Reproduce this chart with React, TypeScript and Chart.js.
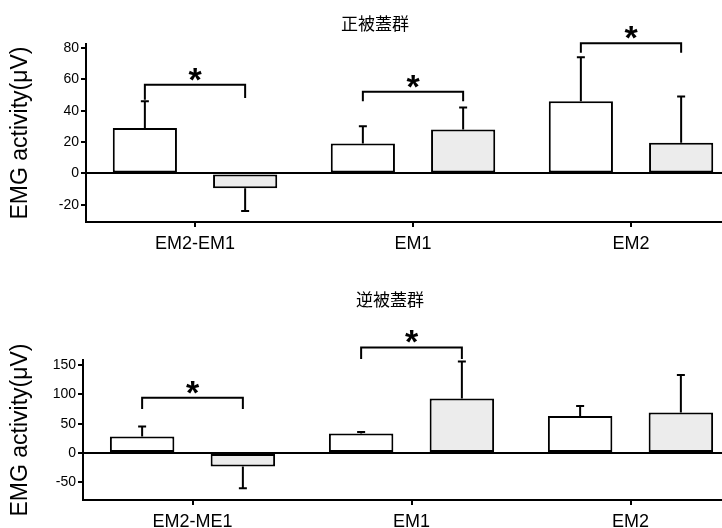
import React, { useEffect, useRef } from "react";
import { Chart, registerables } from "chart.js";

Chart.register(...registerables);

// ---------- DATA ----------
const topTitle = "正被蓋群";
const bottomTitle = "逆被蓋群";
const yAxisTitle = "EMG activity(μV)";

const topCategories = ["EM2-EM1", "EM1", "EM2"];
const topWhite = [29, 19, 46];
const topWhiteErr = [17, 11, 28];
const topGray = [-9.5, 28, 19.5];
const topGrayErr = [14.5, 14, 29.5];
const topBrackets = [
  { group: 0, top: 56.5, legLeft: 47, legRight: 48 },
  { group: 1, top: 52, legLeft: 46, legRight: 46 },
  { group: 2, top: 83, legLeft: 77, legRight: 77 },
];

const bottomCategories = ["EM2-ME1", "EM1", "EM2"];
const bottomWhite = [28, 33.5, 63];
const bottomWhiteErr = [17, 2.5, 17];
const bottomGray = [-23, 93, 69];
const bottomGrayErr = [37, 63, 64];
const bottomBrackets = [
  { group: 0, top: 94, legLeft: 75, legRight: 75 },
  { group: 1, top: 180, legLeft: 160, legRight: 160 },
];

const FONT = "'Liberation Sans', Arial, sans-serif";

const errorBarPlugin = {
  id: "errorBars",
  afterDatasetsDraw(chart: any) {
    const ctx = chart.ctx;
    const y = chart.scales.y;
    ctx.save();
    ctx.strokeStyle = "#000";
    ctx.lineWidth = 2;
    chart.data.datasets.forEach((ds: any, i: number) => {
      const meta = chart.getDatasetMeta(i);
      meta.data.forEach((el: any, j: number) => {
        const v = ds.data[j];
        const e = ds.errors[j];
        const sign = v >= 0 ? 1 : -1;
        const y0 = y.getPixelForValue(v);
        const y1 = y.getPixelForValue(v + sign * e);
        ctx.beginPath();
        ctx.moveTo(el.x, y0);
        ctx.lineTo(el.x, y1);
        ctx.moveTo(el.x - 4, y1);
        ctx.lineTo(el.x + 4, y1);
        ctx.stroke();
      });
    });
    ctx.restore();
  },
};

const bracketPlugin = {
  id: "brackets",
  afterDraw(chart: any) {
    const o = chart.options.plugins.brackets;
    const ctx = chart.ctx;
    const y = chart.scales.y;
    const m0 = chart.getDatasetMeta(0);
    const m1 = chart.getDatasetMeta(1);
    ctx.save();
    ctx.strokeStyle = "#000";
    ctx.fillStyle = "#000";
    ctx.lineWidth = 2;
    o.items.forEach((b: any) => {
      const xl = m0.data[b.group].x;
      const xr = m1.data[b.group].x;
      const yt = y.getPixelForValue(b.top);
      ctx.beginPath();
      ctx.moveTo(xl, y.getPixelForValue(b.legLeft));
      ctx.lineTo(xl, yt);
      ctx.lineTo(xr, yt);
      ctx.lineTo(xr, y.getPixelForValue(b.legRight));
      ctx.stroke();
      ctx.font = `bold 34px ${FONT}`;
      ctx.textAlign = "center";
      ctx.textBaseline = "alphabetic";
      ctx.fillText("*", (xl + xr) / 2, yt - 13 + 19);
    });
    // panel title
    ctx.font = `17px 'Noto Sans CJK JP', sans-serif`;
    ctx.textAlign = "center";
    ctx.textBaseline = "middle";
    ctx.fillText(o.title, o.titleX, o.titleY);
    ctx.restore();
  },
};

function makeConfig(opts: any) {
  return {
    type: "bar",
    data: {
      labels: opts.categories,
      datasets: [
        {
          data: opts.white,
          errors: opts.whiteErr,
          backgroundColor: "#ffffff",
          borderColor: "#000",
          borderWidth: 2,
          borderSkipped: false,
        },
        {
          data: opts.gray,
          errors: opts.grayErr,
          backgroundColor: "#ececec",
          borderColor: "#000",
          borderWidth: 2,
          borderSkipped: false,
        },
      ],
    },
    options: {
      responsive: false,
      animation: false,
      events: [],
      layout: { padding: { top: opts.padTop, left: 0, right: 0, bottom: 0 } },
      datasets: { bar: { categoryPercentage: 0.92, barPercentage: 0.64 } },
      plugins: {
        legend: { display: false },
        tooltip: { enabled: false },
        title: { display: false },
        brackets: {
          items: opts.brackets,
          title: opts.title,
          titleX: opts.titleX,
          titleY: opts.titleY,
        },
      },
      scales: {
        x: {
          offset: true,
          afterFit: (s: any) => {
            s.height = 40;
          },
          grid: {
            display: true,
            drawOnChartArea: false,
            drawTicks: true,
            offset: false,
            tickLength: 5,
            tickColor: "#000",
            lineWidth: 2,
          },
          border: { color: "#000", width: 2 },
          ticks: { color: "#000", font: { family: FONT, size: 18 }, padding: 6 },
        },
        y: {
          min: opts.min,
          max: opts.max,
          afterFit: (s: any) => {
            s.width = opts.axisX;
          },
          grid: {
            color: (c: any) => (c.tick && c.tick.value === 0 ? "#000" : "rgba(0,0,0,0)"),
            lineWidth: 2,
            tickColor: "#000",
            tickLength: 5,
          },
          border: { color: "#000", width: 2 },
          ticks: {
            stepSize: opts.step,
            includeBounds: false,
            color: "#000",
            font: { family: FONT, size: 14 },
            padding: 2,
          },
          title: {
            display: true,
            text: yAxisTitle,
            color: "#000",
            font: { family: FONT, size: 23 },
            padding: { top: 7, bottom: 0 },
          },
        },
      },
    },
    plugins: [errorBarPlugin, bracketPlugin],
  } as any;
}

function BarChart(props: any) {
  const ref = useRef<HTMLCanvasElement>(null);
  useEffect(() => {
    const chart = new Chart(ref.current as HTMLCanvasElement, makeConfig(props.opts));
    return () => chart.destroy();
  }, []);
  return (
    <canvas
      ref={ref}
      width={740}
      height={props.height}
      style={{ position: "absolute", left: 0, top: props.top, width: 740, height: props.height }}
    />
  );
}

export default function App() {
  return (
    <div
      style={{
        position: "fixed",
        left: 0,
        top: 0,
        width: 722,
        height: 528,
        overflow: "hidden",
        background: "#fff",
      }}
    >
      <BarChart
        top={0}
        height={262}
        opts={{
          title: topTitle,
          titleX: 375,
          titleY: 24,
          padTop: 44,
          categories: topCategories,
          white: topWhite,
          whiteErr: topWhiteErr,
          gray: topGray,
          grayErr: topGrayErr,
          brackets: topBrackets,
          min: -31,
          max: 82.5,
          step: 20,
          axisX: 86,
        }}
      />
      <BarChart
        top={250}
        height={290}
        opts={{
          title: bottomTitle,
          titleX: 390,
          titleY: 50,
          padTop: 110,
          categories: bottomCategories,
          white: bottomWhite,
          whiteErr: bottomWhiteErr,
          gray: bottomGray,
          grayErr: bottomGrayErr,
          brackets: bottomBrackets,
          min: -80,
          max: 158.5,
          step: 50,
          axisX: 83,
        }}
      />
    </div>
  );
}
